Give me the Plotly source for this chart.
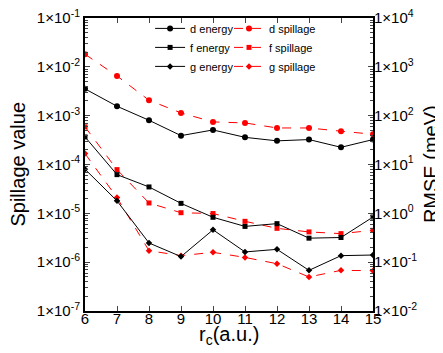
import plotly.graph_objects as go

rc = [6, 7, 8, 9, 10, 11, 12, 13, 14, 15]

# RMSE (meV), right axis
d_energy = [354, 156, 80.5, 39, 51, 36, 30.5, 32.4, 22.5, 32.4]
f_energy = [36.7, 6.2, 3.47, 1.6, 0.83, 0.54, 0.615, 0.31, 0.32, 0.84]
g_energy = [8.0, 1.8, 0.247, 0.13, 0.46, 0.162, 0.183, 0.068, 0.136, 0.14]

# Spillage value, left axis
d_spill = [1.81e-2, 6.5e-3, 2.07e-3, 1.14e-3, 7.45e-4, 7.1e-4, 5.6e-4, 5.6e-4, 4.8e-4, 4.17e-4]
f_spill = [5.9e-4, 7.86e-5, 1.63e-5, 1.03e-5, 9.9e-6, 6.86e-6, 4.93e-6, 4.16e-6, 3.84e-6, 4.49e-6]
g_spill = [1.67e-4, 2.1e-5, 1.72e-6, 1.36e-6, 1.59e-6, 1.25e-6, 9.3e-7, 4.98e-7, 6.8e-7, 6.7e-7]

left_exps = [-7, -6, -5, -4, -3, -2, -1]
right_exps = [-2, -1, 0, 1, 2, 3, 4]

FONT = "Liberation Sans, Arial, sans-serif"

fig = go.Figure()

energy = [("d energy", d_energy, "circle", 6), ("f energy", f_energy, "square", 5), ("g energy", g_energy, "diamond", 5)]
spill = [("d spillage", d_spill, "circle", 6), ("f spillage", f_spill, "square", 5), ("g spillage", g_spill, "diamond", 5)]

for name, vals, sym, sz in energy:
    fig.add_trace(go.Scatter(x=rc, y=vals, name=name, yaxis="y2", mode="lines+markers",
                             line=dict(color="black", width=1),
                             marker=dict(symbol=sym, size=sz, color="black"),
                             legend="legend"))
for name, vals, sym, sz in spill:
    fig.add_trace(go.Scatter(x=rc, y=vals, name=name, yaxis="y", mode="lines+markers",
                             line=dict(color="red", width=1, dash="dash"),
                             marker=dict(symbol=sym, size=sz, color="red"),
                             legend="legend2"))

def minor_vals(lo, hi):
    out = []
    for e in range(lo, hi):
        for k in range(2, 10):
            out.append(k * 10.0 ** e)
    return out

fig.update_layout(
    width=443, height=353,
    margin=dict(l=77, r=78, t=10, b=50, autoexpand=False),
    plot_bgcolor="white", paper_bgcolor="white",
    font=dict(family=FONT, color="black"),
    xaxis=dict(range=[6, 15], dtick=1, tick0=6, ticks="inside", ticklen=5,
               showline=True, linecolor="black", linewidth=2, mirror="ticks",
               showgrid=False, zeroline=False, tickfont=dict(size=15), automargin=False,
               ticklabeloverflow="allow", ticklabelstandoff=-7),
    yaxis=dict(type="log", range=[-7, -1],
               tickvals=[10.0 ** e for e in left_exps],
               ticktext=["1×10<sup>%d</sup>" % e for e in left_exps],
               ticks="inside", ticklen=5, showline=True, linecolor="black", linewidth=2,
               showgrid=False, zeroline=False, tickfont=dict(size=15), automargin=False,
               ticklabeloverflow="allow",
               minor=dict(tickvals=minor_vals(-7, -1), ticks="inside", ticklen=3, showgrid=False)),
    yaxis2=dict(type="log", range=[-2, 4], overlaying="y", side="right",
                tickvals=[10.0 ** e for e in right_exps],
                ticktext=["1×10<sup>%d</sup>" % e for e in right_exps],
                ticks="inside", ticklen=5, showline=True, linecolor="black", linewidth=2,
                showgrid=False, zeroline=False, tickfont=dict(size=15), automargin=False,
                ticklabeloverflow="allow", ticklabelstandoff=-4,
                minor=dict(tickvals=minor_vals(-2, 4), ticks="inside", ticklen=3, showgrid=False)),
    legend=dict(x=0.226, y=1.014, xanchor="left", yanchor="top", bgcolor="rgba(0,0,0,0)",
                font=dict(size=11), tracegroupgap=0, itemwidth=30),
    legend2=dict(x=0.5, y=1.014, xanchor="left", yanchor="top", bgcolor="rgba(0,0,0,0)",
                 font=dict(size=11), tracegroupgap=0, itemwidth=30),
    annotations=[
        dict(text="Spillage value", xref="paper", yref="paper", x=-0.236, y=0.5,
             xanchor="center", yanchor="middle", textangle=-90, showarrow=False,
             font=dict(size=20)),
        dict(text="RMSE (meV)", xref="paper", yref="paper", x=1.20, y=0.5,
             xanchor="center", yanchor="middle", textangle=-90, showarrow=False,
             font=dict(size=20)),
        dict(text="r<sub>c</sub>(a.u.)", xref="paper", yref="paper", x=0.5, y=-0.034,
             xanchor="center", yanchor="top", showarrow=False, font=dict(size=20)),
    ],
)

fig.write_html("out.html")
